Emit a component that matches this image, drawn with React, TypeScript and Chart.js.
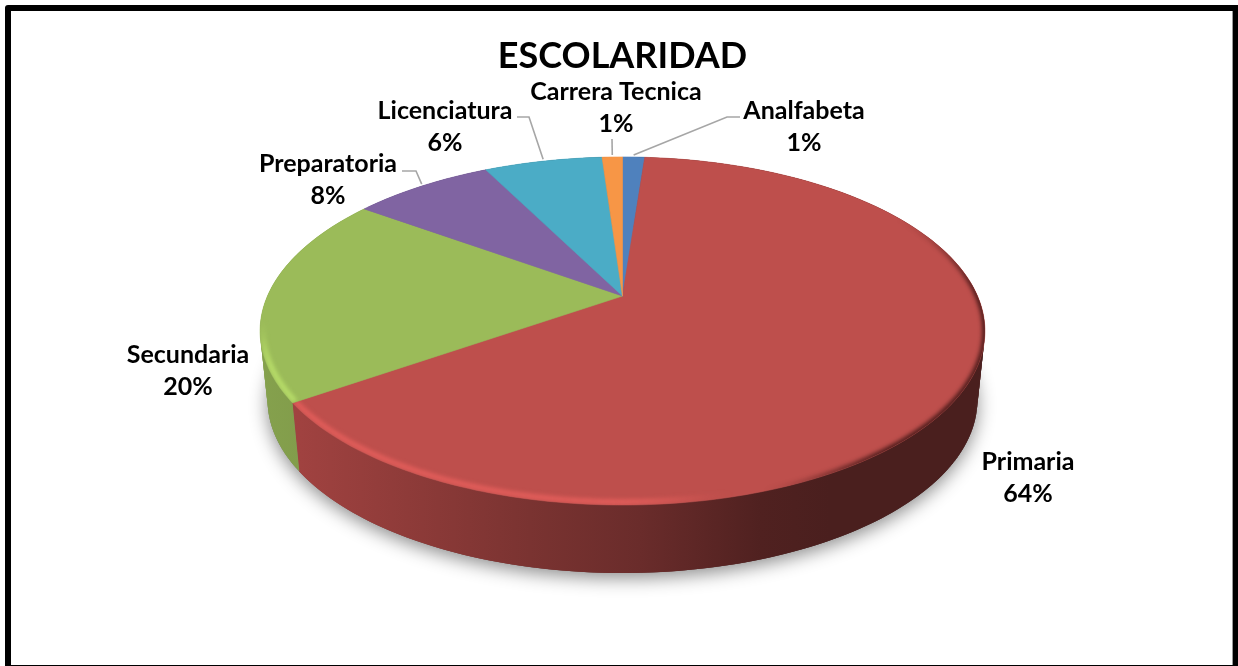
import React, { useEffect, useRef } from "react";
import { Chart, registerables } from "chart.js";

Chart.register(...registerables);

const categories = ["Analfabeta", "Primaria", "Secundaria", "Preparatoria", "Licenciatura", "Carrera Tecnica"];
const shares = [1.2, 64.2, 19.5, 7.6, 6.4, 1.1];
const sliceColors = ["#4F81BD", "#BE4F4C", "#9BBB59", "#8064A2", "#4BACC6", "#F79646"];
const titleText = "ESCOLARIDAD";

// label layout: centre x, centre y of first line
const labelCentres = [[804, 111], [1028, 462], [188, 355], [328, 164], [445, 111], [616, 92]];
// leader elbow points, drawn from slice rim; null = none
const leaderElbows: (number[][] | null)[] = [
  [[727, 117], [740, 117]],
  null,
  null,
  [[416, 171], [402, 171]],
  [[529, 117], [517, 117]],
  [[612, 139]],
];

const FONT = "Lato, Carlito, sans-serif";
const LABEL_SIZE = 25;
const LINE_GAP = 32;

// perspective of the pie's top face
const APEX = { x: 622.5, y: 296 };
const P = 0.2011;
const KY = 167;
const KX = 355;
function project(t: number) {
  const u = Math.cos(t);
  const v = Math.sin(t);
  const w = 1 - P * v;
  return { x: APEX.x + (KX * u) / w, y: APEX.y + (KY * v) / w };
}
// floor rim of the extruded wall
function lower(p: { x: number; y: number }) {
  return { x: 622.5 + ((p.x - 622.5) * 355) / 362.5, y: 400 + ((p.y - 331) * 173) / 174 };
}
function rgb(hex: string) {
  return [1, 3, 5].map((i) => parseInt(hex.slice(i, i + 2), 16));
}
function shade(hex: string, f: number) {
  const [r, g, b] = rgb(hex);
  return `rgb(${Math.round(r * f)},${Math.round(g * f)},${Math.round(b * f)})`;
}
function steps(a: number, b: number) {
  const n = Math.max(2, Math.ceil(((b - a) * 180) / Math.PI));
  const out: number[] = [];
  for (let i = 0; i <= n; i++) out.push(a + ((b - a) * i) / n);
  return out;
}
function smooth(a: number, b: number, x: number) {
  const k = Math.min(1, Math.max(0, (x - a) / (b - a)));
  return k * k * (3 - 2 * k);
}

const pie3d = {
  id: "pie3d",
  beforeDraw(chart: any) {
    const ctx = chart.ctx;
    ctx.save();
    ctx.fillStyle = "#fff";
    ctx.fillRect(0, 0, chart.width, chart.height);
    ctx.fillStyle = "#000";
    ctx.beginPath();
    ctx.roundRect(5, 5, 1233, 661, [3, 0, 0, 0]);
    ctx.rect(11, 11, 1222, 654);
    ctx.fill("evenodd");
    ctx.fillStyle = "#9a9a9a";
    ctx.fillRect(1232, 11, 1, 654);
    ctx.restore();
  },
  beforeDatasetsDraw(chart: any) {
    const ctx = chart.ctx;
    const arcs = chart.getDatasetMeta(0).data;
    const full = steps(-Math.PI / 2, Math.PI * 1.5);

    // ground shadow
    ctx.save();
    ctx.shadowColor = "rgba(0,0,0,0.45)";
    ctx.shadowBlur = 18;
    ctx.shadowOffsetY = 5;
    ctx.fillStyle = "#777";
    ctx.beginPath();
    full.forEach((t, i) => {
      const q = lower(project(t));
      i ? ctx.lineTo(q.x, q.y) : ctx.moveTo(q.x, q.y);
    });
    ctx.closePath();
    ctx.fill();
    ctx.restore();

    // walls, built from overlapping quads so the silhouette between rims is filled
    arcs.forEach((arc: any, i: number) => {
      const c = sliceColors[i];
      const ts = steps(arc.startAngle, arc.endAngle);
      const g = ctx.createLinearGradient(260, 0, 985, 0);
      const stops = [[260, 0.86], [300, 0.84], [530, 0.64], [640, 0.56], [760, 0.42], [830, 0.39], [985, 0.39]];
      stops.forEach(([x, f]) => g.addColorStop((x - 260) / 725, shade(c, f)));
      ctx.fillStyle = g;
      for (let k = 0; k < ts.length - 1; k++) {
        const a = project(ts[k]);
        const b = project(ts[Math.min(k + 2, ts.length - 1)]);
        const a2 = lower(a);
        const b2 = lower(b);
        ctx.beginPath();
        ctx.moveTo(a.x, a.y);
        ctx.lineTo(b.x, b.y);
        ctx.lineTo(b2.x, b2.y);
        ctx.lineTo(a2.x, a2.y);
        ctx.closePath();
        ctx.fill();
      }
    });

    // top faces
    const layer = document.createElement("canvas");
    layer.width = chart.width;
    layer.height = chart.height;
    const lc = layer.getContext("2d")!;
    arcs.forEach((arc: any, i: number) => {
      const c = sliceColors[i];
      const ts = steps(arc.startAngle, arc.endAngle);
      const path = new Path2D();
      path.moveTo(APEX.x, APEX.y);
      ts.forEach((t) => {
        const q = project(t);
        path.lineTo(q.x, q.y);
      });
      path.closePath();
      ctx.fillStyle = c;
      ctx.strokeStyle = c;
      ctx.lineWidth = 0.6;
      ctx.fill(path);
      ctx.stroke(path);

      // soft bevel along the rim, painted on a layer then blurred
      lc.clearRect(0, 0, layer.width, layer.height);
      const [r, g, b] = rgb(c);
      const m = (v: number) => Math.min(255, Math.round(v * 1.22));
      lc.lineCap = "butt";
      lc.lineWidth = 5;
      for (let k = 0; k < ts.length - 1; k++) {
        const mid = (ts[k] + ts[k + 1]) / 2;
        const p = project(ts[k]);
        const q = project(ts[k + 1]);
        const x = p.x;
        const v = Math.sin(mid);
        const lightA = 0.95 * smooth(0.12, 0.42, v) * (1 - smooth(620, 740, x));
        const darkA = 0.9 * smooth(-0.55, 0.05, v) * smooth(760, 900, x);
        // step inward so that the highlight sits just inside the rim
        const inset = (pt: { x: number; y: number }) => ({
          x: APEX.x + (pt.x - APEX.x) * 0.992,
          y: APEX.y + (pt.y - APEX.y) * 0.985,
        });
        if (lightA > 0.01) {
          const A = inset(p);
          const B = inset(q);
          lc.strokeStyle = `rgba(${m(r)},${m(g)},${m(b)},${lightA})`;
          lc.beginPath();
          lc.moveTo(A.x, A.y);
          lc.lineTo(B.x, B.y);
          lc.stroke();
        }
        if (darkA > 0.01) {
          lc.strokeStyle = `rgba(50,15,15,${darkA})`;
          lc.beginPath();
          lc.moveTo(p.x, p.y);
          lc.lineTo(q.x, q.y);
          lc.stroke();
        }
      }
      ctx.save();
      ctx.clip(path);
      ctx.filter = "blur(2px)";
      ctx.drawImage(layer, 0, 0);
      ctx.restore();
    });
    return false;
  },
  afterDraw(chart: any) {
    const ctx = chart.ctx;
    const arcs = chart.getDatasetMeta(0).data;
    const total = shares.reduce((a, b) => a + b, 0);
    ctx.save();
    // leaders
    ctx.strokeStyle = "#A6A6A6";
    ctx.lineWidth = 1.6;
    leaderElbows.forEach((pts, i) => {
      if (!pts) return;
      const mid = (arcs[i].startAngle + arcs[i].endAngle) / 2;
      const s = project(mid);
      ctx.beginPath();
      ctx.moveTo(s.x, s.y - 2);
      pts.forEach((p) => ctx.lineTo(p[0], p[1]));
      ctx.stroke();
    });
    // labels
    ctx.fillStyle = "#000";
    ctx.font = `bold ${LABEL_SIZE}px ${FONT}`;
    ctx.textAlign = "center";
    ctx.textBaseline = "middle";
    categories.forEach((name, i) => {
      const [x, y] = labelCentres[i];
      ctx.fillText(name, x, y);
      ctx.fillText(`${Math.round((shares[i] / total) * 100)}%`, x, y + LINE_GAP);
    });
    ctx.restore();
  },
};

export default function App() {
  const ref = useRef<HTMLCanvasElement>(null);
  useEffect(() => {
    document.body.style.margin = "0";
    const chart = new Chart(ref.current!, {
      type: "pie",
      data: {
        labels: categories,
        datasets: [{ data: shares, backgroundColor: sliceColors, borderWidth: 0 }],
      },
      options: {
        animation: false,
        responsive: false,
        layout: { padding: { left: 7, top: 35 } },
        plugins: {
          legend: { display: false },
          tooltip: { enabled: false },
          title: {
            display: true,
            text: titleText,
            color: "#000",
            font: { family: FONT, size: 36, weight: "bold" },
            padding: 0,
          },
        },
      },
      plugins: [pie3d],
    } as any);
    return () => chart.destroy();
  }, []);
  return <canvas ref={ref} width={1238} height={666} style={{ display: "block" }} />;
}
